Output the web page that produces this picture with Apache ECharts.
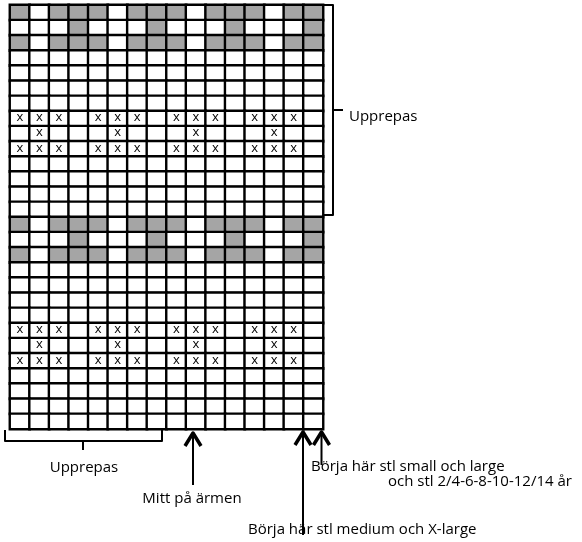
<!DOCTYPE html>
<html><head><meta charset="utf-8">
<script src="https://cdn.jsdelivr.net/npm/echarts@6/dist/echarts.min.js"></script>
<style>html,body{margin:0;padding:0;background:#fff}#c{width:582px;height:542px}</style>
</head><body><div id="c"></div>
<script>
// Chart content: 16 stitches x 28 rows (top to bottom). G = grey stitch, x = marked stitch, . = plain
const columns = ['1','2','3','4','5','6','7','8','9','10','11','12','13','14','15','16'];
const repeatBlock = [
  'G.GGG.GGG.GGG.GG',
  '...G...G...G...G',
  'G.GGG.GGG.GGG.GG',
  '................',
  '................',
  '................',
  '................',
  'xxx.xxx.xxx.xxx.',
  '.x...x...x...x..',
  'xxx.xxx.xxx.xxx.',
  '................',
  '................',
  '................',
  '................'
];
const chartRows = repeatBlock.concat(repeatBlock);
const rowNames = chartRows.map((r, i) => String(i + 1));
const texts = {
  repeatRight: 'Upprepas',
  repeatBottom: 'Upprepas',
  middle: 'Mitt på ärmen',
  startSL: 'Börja här stl small och large',
  startSL2: 'och stl 2/4-6-8-10-12/14 år',
  startMXL: 'Börja här stl medium och X-large'
};

const GREY = '#a5a5a5';
const data = [];
chartRows.forEach((row, r) => {
  row.split('').forEach((ch, c) => {
    data.push({
      value: [c, r, ch === 'G' ? 1 : (ch === 'x' ? 2 : 0)],
      itemStyle: { color: ch === 'G' ? GREY : '#ffffff' }
    });
  });
});

const FONT = '"Open Sans", sans-serif';
const chart = echarts.init(document.getElementById('c'));
function txt(x, y, s, align) {
  return { type: 'text', x: x, y: y, style: { text: s, fill: '#000', font: '15px ' + FONT, textAlign: align || 'left', textVerticalAlign: 'middle' } };
}
function line(pts, w) {
  return { type: 'polyline', shape: { points: pts }, style: { stroke: '#000', lineWidth: w || 2, fill: null, lineJoin: 'round' } };
}
function arrow(x, tip, end) {
  return [
    line([[x, tip + 2], [x, end]], 2),
    line([[x - 8, tip + 15], [x, tip + 2], [x + 8, tip + 15]], 3.5)
  ];
}
chart.setOption({
  animation: false,
  grid: { left: 10, top: 5, width: 313, height: 424 },
  xAxis: { type: 'category', data: columns, axisLine: { show: false }, axisTick: { show: false }, axisLabel: { show: false }, splitLine: { show: false } },
  yAxis: { type: 'category', data: rowNames, inverse: true, axisLine: { show: false }, axisTick: { show: false }, axisLabel: { show: false }, splitLine: { show: false } },
  series: [{
    type: 'heatmap',
    data: data,
    itemStyle: { borderColor: '#000', borderWidth: 2.4 },
    emphasis: { disabled: true },
    label: {
      show: true,
      formatter: p => (p.value[2] === 2 ? 'x' : ''),
      color: '#000', fontFamily: FONT, fontSize: 13, offset: [0, -1]
    }
  }],
  graphic: [].concat(
    // right bracket
    [line([[323, 5], [333, 5], [333, 215], [323, 215]], 2),
     line([[333, 110], [343, 110]], 2),
     txt(349, 117, texts.repeatRight)],
    // bottom bracket
    [line([[5, 430], [5, 441], [162, 441], [162, 430]], 2),
     line([[83, 441], [83, 450]], 2),
     txt(84, 468, texts.repeatBottom, 'center')],
    arrow(193, 431, 485),
    [txt(192, 499, texts.middle, 'center')],
    arrow(303, 430, 535),
    arrow(321.5, 430, 465),
    [txt(311, 467, texts.startSL),
     txt(388, 482, texts.startSL2),
     txt(248, 530, texts.startMXL)]
  )
});
</script></body></html>
